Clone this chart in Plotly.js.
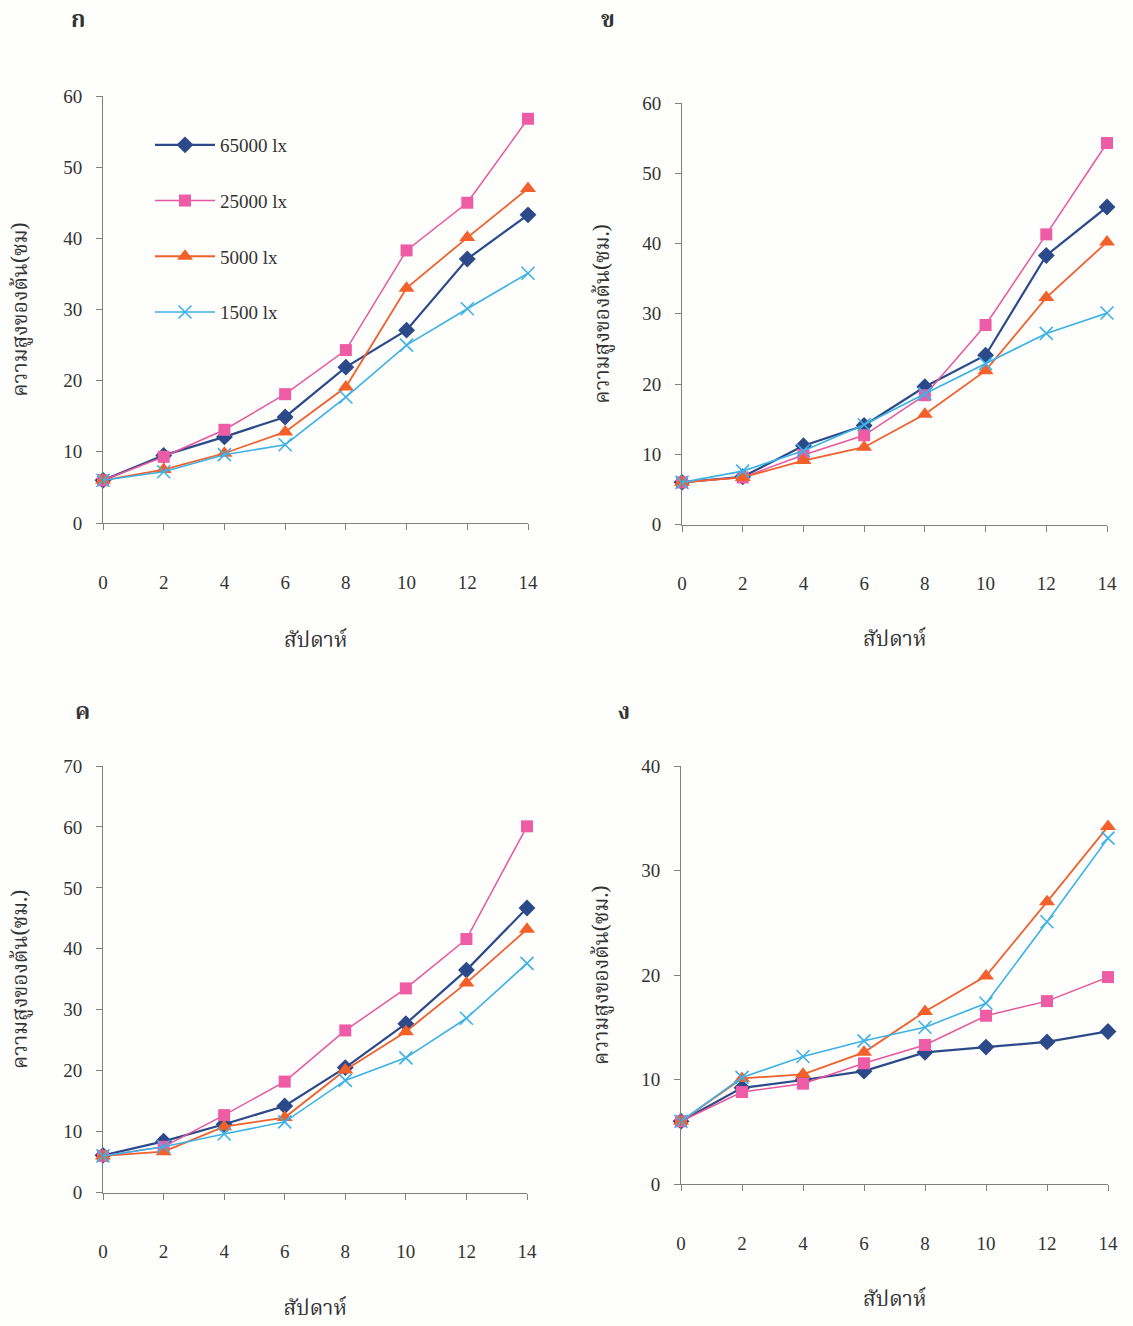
<!DOCTYPE html>
<html>
<head>
<meta charset="utf-8">
<script src="https://cdn.plot.ly/plotly-3.0.1.min.js"></script>
<style>
html,body{margin:0;padding:0;background:#fefefc;}
#chart{width:1133px;height:1326px;}
</style>
</head>
<body>
<div id="chart"></div>
<script>
// ---------- data ----------
const weeks = [0, 2, 4, 6, 8, 10, 12, 14];
const seriesNames = ['65000 lx', '25000 lx', '5000 lx', '1500 lx'];
const panelLabels = ['ก', 'ข', 'ค', 'ง'];
const xTitle = 'สัปดาห์';
const yTitles = ['ความสูงของต้น(ซม)', 'ความสูงของต้น(ซม.)', 'ความสูงของต้น(ซม.)', 'ความสูงของต้น(ซม.)'];
const xTicks = [0, 2, 4, 6, 8, 10, 12, 14];

// panel ก
const a_65000 = [6.0, 9.5, 12.1, 14.9, 21.9, 27.1, 37.1, 43.3];
const a_25000 = [6.0, 9.3, 13.1, 18.1, 24.3, 38.3, 45.0, 56.8];
const a_5000  = [6.0, 7.5, 9.8, 12.8, 19.1, 33.0, 40.1, 47.0];
const a_1500  = [6.0, 7.2, 9.6, 11.0, 17.7, 25.0, 30.1, 35.1];
// panel ข
const b_65000 = [6.0, 6.8, 11.2, 14.1, 19.6, 24.1, 38.3, 45.2];
const b_25000 = [6.0, 6.7, 9.9, 12.7, 18.4, 28.4, 41.3, 54.3];
const b_5000  = [6.0, 6.7, 9.1, 11.0, 15.7, 21.9, 32.3, 40.2];
const b_1500  = [6.0, 7.6, 10.5, 14.2, 18.6, 22.9, 27.2, 30.1];
// panel ค
const c_65000 = [6.1, 8.4, 11.2, 14.2, 20.5, 27.7, 36.5, 46.7];
const c_25000 = [6.0, 7.5, 12.7, 18.2, 26.6, 33.5, 41.6, 60.1];
const c_5000  = [6.0, 6.7, 10.8, 12.3, 20.1, 26.4, 34.4, 43.2];
const c_1500  = [6.0, 7.5, 9.6, 11.6, 18.4, 22.1, 28.6, 37.6];
// panel ง
const d_65000 = [6.0, 9.2, 9.95, 10.8, 12.6, 13.1, 13.6, 14.6];
const d_25000 = [6.0, 8.8, 9.6, 11.55, 13.3, 16.1, 17.5, 19.8];
const d_5000  = [6.0, 10.1, 10.5, 12.6, 16.5, 19.9, 27.0, 34.2];
const d_1500  = [6.0, 10.2, 12.2, 13.7, 15.0, 17.3, 25.1, 33.1];

const yMax = [60, 60, 70, 40];
const yDtick = [10, 10, 10, 10];

// ---------- styles ----------
const W = 1133, H = 1326;
const styles = [
  {color: '#2c4a8a', symbol: 'diamond', size: 13, width: 2.2, lineColor: '#2c4a8a'},
  {color: '#ee5ca6', symbol: 'square', size: 12, width: 1.5, lineColor: '#e8579e'},
  {color: '#f4602a', symbol: 'triangle-up', size: 14, width: 1.8, lineColor: '#f0602c'},
  {color: '#3cb2e6', symbol: 'x-thin-open', size: 13, width: 1.6, lineColor: '#3cb2e6'}
];
const panelData = [
  [a_65000, a_25000, a_5000, a_1500],
  [b_65000, b_25000, b_5000, b_1500],
  [c_65000, c_25000, c_5000, c_1500],
  [d_65000, d_25000, d_5000, d_1500]
];
// pixel boxes: [left, right, top, bottom]
const boxes = [
  [103, 528, 96, 523],
  [682, 1107, 103, 524.5],
  [103, 527, 766, 1192.5],
  [681, 1108, 766, 1184]
];
const xStandoff = [40, 38, 41, 38];
const yStandoff = [29, 26, 29, 26];

const serif = '"Liberation Serif", "Times New Roman", serif';
const thai = '"Noto Serif Thai", "Noto Sans Thai", "Liberation Serif", serif';

const traces = [];
panelData.forEach((series, p) => {
  const xa = p === 0 ? 'x' : 'x' + (p + 1);
  const ya = p === 0 ? 'y' : 'y' + (p + 1);
  series.forEach((vals, s) => {
    const st = styles[s];
    traces.push({
      type: 'scatter', mode: 'lines+markers',
      x: weeks, y: vals, xaxis: xa, yaxis: ya,
      name: seriesNames[s], legendgroup: 'g' + s,
      showlegend: p === 0,
      line: {color: st.lineColor, width: st.width},
      marker: {symbol: st.symbol, size: st.size, color: st.color,
               line: {color: st.color, width: st.symbol.startsWith('x') ? 1.6 : 0}},
      cliponaxis: false
    });
  });
});

const layout = {
  width: W, height: H,
  margin: {l: 0, r: 0, t: 0, b: 0},
  paper_bgcolor: '#fefefc', plot_bgcolor: 'rgba(0,0,0,0)',
  showlegend: true,
  legend: {
    x: 150 / W, y: 1 - 126 / H, xanchor: 'left', yanchor: 'top',
    bgcolor: 'rgba(0,0,0,0)', tracegroupgap: 28, itemwidth: 60,
    font: {family: serif, size: 19, color: '#333'}
  },
  annotations: [],
  font: {family: serif, color: '#333'}
};

boxes.forEach((b, p) => {
  const sfx = p === 0 ? '' : String(p + 1);
  layout['xaxis' + sfx] = {
    domain: [b[0] / W, b[1] / W], anchor: 'y' + sfx,
    range: [0, 14], tickvals: xTicks, ticktext: xTicks.map(String),
    showgrid: false, zeroline: false, showline: true, linecolor: '#808080', linewidth: 1,
    ticks: 'outside', ticklen: 6, tickcolor: '#808080',
    ticklabelstandoff: 36,
    tickfont: {family: serif, size: 19, color: '#333'},
    title: {text: xTitle, font: {family: thai, size: 21, color: '#333'}, standoff: xStandoff[p]}
  };
  layout['yaxis' + sfx] = {
    domain: [1 - b[3] / H, 1 - b[2] / H], anchor: 'x' + sfx,
    range: [0, yMax[p]], dtick: yDtick[p], tick0: 0,
    showgrid: false, zeroline: false, showline: true, linecolor: '#808080', linewidth: 1,
    ticks: 'outside', ticklen: 6, tickcolor: '#808080',
    ticklabelstandoff: 10,
    tickfont: {family: serif, size: 19, color: '#333'},
    title: {text: yTitles[p], font: {family: thai, size: 21, color: '#333'}, standoff: yStandoff[p]}
  };
});

const labelPos = [[78, 21], [608, 21], [82, 713], [624, 713]];
panelLabels.forEach((t, i) => {
  layout.annotations.push({
    text: '<b>' + t + '</b>', xref: 'paper', yref: 'paper',
    x: labelPos[i][0] / W, y: 1 - labelPos[i][1] / H,
    xanchor: 'center', yanchor: 'middle', showarrow: false,
    font: {family: thai, size: 23, color: '#333'}
  });
});

Plotly.newPlot('chart', traces, layout, {staticPlot: true});
</script>
</body>
</html>
